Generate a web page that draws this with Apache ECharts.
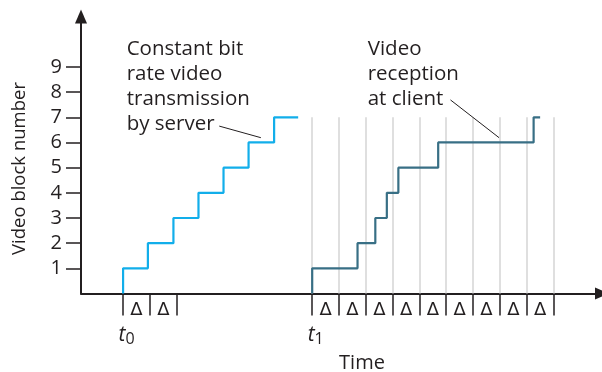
<!DOCTYPE html>
<html>
<head>
<meta charset="utf-8">
<script src="https://cdn.jsdelivr.net/npm/echarts@6/dist/echarts.min.js"></script>
<style>
    html, body { margin: 0; padding: 0; background: #fff; }
    #chart { width: 602px; height: 372px; }
</style>
</head>
<body>
<div id="chart"></div>
<script>
// server sends one block every step (t0 = first step)
const serverTimes = [1.68, 2.67, 3.69, 4.69, 5.69, 6.69, 7.71];
const serverLevels = [1, 2, 3, 4, 5, 6, 7];
const serverEnd = 8.67;

// client receives blocks with variable delay (t1 = first step)
const clientTimes = [9.23, 11.04, 11.75, 12.21, 12.67, 14.26, 18.07];
const clientLevels = [1, 2, 3, 4, 5, 6, 7];
const clientEnd = 18.33;

// delta boundaries under the time axis
const serverDeltaTicks = [1.68, 2.75, 3.83];
const clientDeltaTicks = [9.23, 10.30, 11.37, 12.45, 13.51, 14.58, 15.65, 16.73, 17.80, 18.86];
const gridTop = 7;

const yTickValues = [1, 2, 3, 4, 5, 6, 7, 8, 9];
const timeMarks = [1.68, 9.23];
const timeMarkLabels = ["0", "1"];

// leader lines of the two notes: [x, y] pairs
const serverLeader = [[5.52, 6.65], [7.18, 6.19]];
const clientLeader = [[14.75, 7.69], [16.69, 6.19]];

const ink = "#231f20";
const font = '"Open Sans", "Noto Sans", sans-serif';

// -------------------------------------------------
// helpers
// -------------------------------------------------
function stepPoints(times, levels, end) {
    const pts = [];
    let prev = 0;
    times.forEach((t, i) => {
        pts.push([t, prev]);
        pts.push([t, levels[i]]);
        prev = levels[i];
    });
    pts.push([end, prev]);
    return pts;
}

function midpoints(ticks) {
    const out = [];
    for (let i = 0; i < ticks.length - 1; i++) {
        out.push((ticks[i] + ticks[i + 1]) / 2);
    }
    return out;
}

const deltaTicks = serverDeltaTicks.concat(clientDeltaTicks);
const deltaCenters = midpoints(serverDeltaTicks).concat(midpoints(clientDeltaTicks));

const chart = echarts.init(document.getElementById("chart"), null, { renderer: "canvas" });

chart.setOption({
    animation: false,
    grid: {
        left: 81,
        top: 16.6,
        width: 523.5,
        height: 276.9,
        containLabel: false
    },
    xAxis: [
        {
            type: "value",
            min: 0,
            max: 20.8,
            position: "bottom",
            axisLine: {
                onZero: false,
                symbol: ["none", "triangle"],
                symbolSize: [12, 14],
                lineStyle: { color: ink, width: 2 }
            },
            axisTick: {
                customValues: deltaTicks,
                length: 22,
                lineStyle: { color: ink, width: 1.5 }
            },
            axisLabel: {
                customValues: deltaCenters,
                formatter: function () { return "Δ"; },
                fontFamily: '"DejaVu Sans", sans-serif',
                fontSize: 18,
                color: ink,
                margin: 8
            },
            splitLine: { show: false }
        },
        {
            type: "value",
            min: 0,
            max: 20.8,
            position: "bottom",
            axisLine: { show: false },
            axisTick: { show: false },
            axisLabel: {
                customValues: timeMarks,
                formatter: function (value) {
                    const i = timeMarks.indexOf(value);
                    return "{t|t}{s|" + timeMarkLabels[i] + "}";
                },
                margin: 29,
                padding: [0, 0, 0, 7],
                rich: {
                    t: { fontFamily: font, fontSize: 21, fontStyle: "italic", color: ink },
                    s: { fontFamily: font, fontSize: 16, color: ink, padding: [9, 0, 0, 0] }
                }
            },
            splitLine: { show: false }
        }
    ],
    yAxis: {
        type: "value",
        min: 0,
        max: 11,
        axisLine: {
            show: true,
            onZero: false,
            symbol: ["none", "triangle"],
            symbolSize: [12, 14],
            lineStyle: { color: ink, width: 2 }
        },
        axisTick: {
            customValues: yTickValues,
            length: 15,
            lineStyle: { color: ink, width: 1.5 }
        },
        axisLabel: {
            customValues: yTickValues,
            fontFamily: font,
            fontSize: 20,
            color: ink,
            margin: 19
        },
        splitLine: { show: false }
    },
    graphic: [
        {
            type: "text",
            x: 126.7,
            y: 36.5,
            style: {
                text: "Constant bit\nrate video\ntransmission\nby server",
                font: "20.5px " + font,
                lineHeight: 25,
                fill: ink,
                verticalAlign: "top"
            }
        },
        {
            type: "text",
            x: 367.7,
            y: 36.5,
            style: {
                text: "Video\nreception\nat client",
                font: "20.5px " + font,
                lineHeight: 25,
                fill: ink,
                verticalAlign: "top"
            }
        },
        {
            type: "text",
            x: 362,
            y: 363,
            style: {
                text: "Time",
                font: "20px " + font,
                fill: ink,
                align: "center",
                verticalAlign: "middle"
            }
        },
        {
            type: "text",
            x: 20,
            y: 168.5,
            rotation: Math.PI / 2,
            style: {
                text: "Video block number",
                font: "18.5px " + font,
                fill: ink,
                align: "center",
                verticalAlign: "middle"
            }
        }
    ],
    series: [
        {
            // light vertical guides every delta at the client
            type: "lines",
            coordinateSystem: "cartesian2d",
            z: 1,
            silent: true,
            lineStyle: { color: "#d4d4d4", width: 1.5, opacity: 1 },
            data: clientDeltaTicks.map(x => ({ coords: [[x, 0], [x, gridTop]] }))
        },
        {
            type: "lines",
            coordinateSystem: "cartesian2d",
            z: 2,
            silent: true,
            lineStyle: { color: ink, width: 1, opacity: 1 },
            data: [{ coords: serverLeader }, { coords: clientLeader }]
        },
        {
            name: "server",
            type: "line",
            z: 3,
            data: stepPoints(serverTimes, serverLevels, serverEnd),
            showSymbol: false,
            lineStyle: { color: "#12aeea", width: 2.2 }
        },
        {
            name: "client",
            type: "line",
            z: 3,
            data: stepPoints(clientTimes, clientLevels, clientEnd),
            showSymbol: false,
            lineStyle: { color: "#386f85", width: 2.2 }
        }
    ]
});
</script>
</body>
</html>
